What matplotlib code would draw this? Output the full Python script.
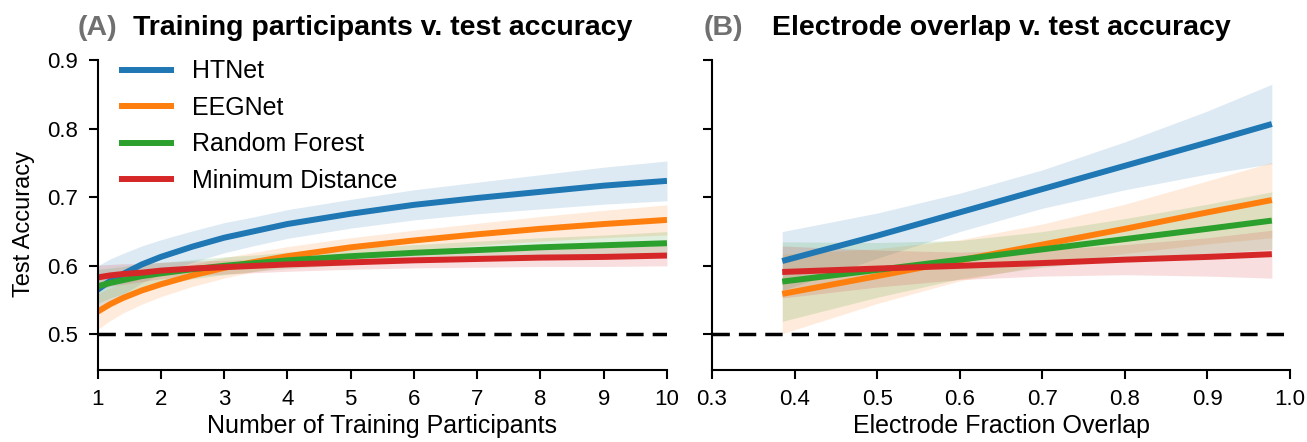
import matplotlib
matplotlib.use("Agg")
import matplotlib.pyplot as plt
import numpy as np

plt.rcParams['font.family'] = ['Liberation Sans', 'DejaVu Sans']

# ---------------- data ----------------
models = ["HTNet", "EEGNet", "Random Forest", "Minimum Distance"]
colors = ["#1f77b4", "#ff7f0e", "#2ca02c", "#d62728"]

# Panel A: number of training participants
n_train = [1, 1.2, 1.4, 1.7, 2, 2.5, 3, 3.5, 4, 5, 6, 7, 8, 9, 10]
acc_a_htnet = [0.565, 0.578, 0.588, 0.602, 0.613, 0.628, 0.641, 0.651, 0.661, 0.676, 0.689, 0.699, 0.708, 0.717, 0.724]
acc_a_eegnet = [0.533, 0.544, 0.553, 0.564, 0.573, 0.586, 0.597, 0.606, 0.614, 0.627, 0.637, 0.646, 0.654, 0.661, 0.667]
acc_a_rf = [0.570, 0.575, 0.579, 0.585, 0.589, 0.595, 0.600, 0.604, 0.608, 0.614, 0.619, 0.623, 0.627, 0.630, 0.633]
acc_a_md = [0.583, 0.586, 0.588, 0.590, 0.593, 0.596, 0.598, 0.600, 0.602, 0.605, 0.608, 0.610, 0.612, 0.613, 0.615]
ci_a_htnet = [0.035, 0.032, 0.030, 0.027, 0.025, 0.023, 0.022, 0.021, 0.021, 0.021, 0.022, 0.023, 0.025, 0.027, 0.029]
ci_a_eegnet = [0.026, 0.024, 0.022, 0.020, 0.018, 0.016, 0.015, 0.014, 0.014, 0.014, 0.015, 0.016, 0.018, 0.020, 0.022]
ci_a_rf = [0.025, 0.022, 0.020, 0.018, 0.016, 0.014, 0.013, 0.012, 0.012, 0.012, 0.012, 0.013, 0.014, 0.015, 0.017]
ci_a_md = [0.018, 0.016, 0.015, 0.013, 0.012, 0.011, 0.010, 0.010, 0.010, 0.010, 0.011, 0.012, 0.013, 0.014, 0.015]

# Panel B: electrode fraction overlap
overlap = [0.385, 0.5, 0.6, 0.7, 0.8, 0.9, 0.978]
acc_b_htnet = [0.607, 0.644, 0.678, 0.712, 0.746, 0.780, 0.807]
acc_b_eegnet = [0.559, 0.585, 0.608, 0.631, 0.654, 0.678, 0.696]
acc_b_rf = [0.577, 0.594, 0.609, 0.624, 0.639, 0.654, 0.666]
acc_b_md = [0.591, 0.596, 0.600, 0.604, 0.609, 0.613, 0.617]
ci_b_htnet = [0.043, 0.033, 0.028, 0.028, 0.035, 0.046, 0.058]
ci_b_eegnet = [0.058, 0.040, 0.030, 0.030, 0.036, 0.046, 0.055]
ci_b_rf = [0.058, 0.040, 0.028, 0.026, 0.030, 0.036, 0.042]
ci_b_md = [0.038, 0.027, 0.020, 0.019, 0.022, 0.028, 0.035]

chance = 0.5
yticks = [0.5, 0.6, 0.7, 0.8, 0.9]
xticks_a = [1, 2, 3, 4, 5, 6, 7, 8, 9, 10]
xticks_b = [0.3, 0.4, 0.5, 0.6, 0.7, 0.8, 0.9, 1.0]

# ---------------- figure ----------------
fig = plt.figure(figsize=(13.07, 4.42), dpi=100)
axA = fig.add_axes([0.0746, 0.163, 0.4357, 0.7006])
axB = fig.add_axes([0.5448, 0.163, 0.4422, 0.7006])

lw = 4.3
panelA = [(acc_a_htnet, ci_a_htnet), (acc_a_eegnet, ci_a_eegnet), (acc_a_rf, ci_a_rf), (acc_a_md, ci_a_md)]
panelB = [(acc_b_htnet, ci_b_htnet), (acc_b_eegnet, ci_b_eegnet), (acc_b_rf, ci_b_rf), (acc_b_md, ci_b_md)]

for (m, c), name, col in zip(panelA, models, colors):
    m = np.array(m); c = np.array(c)
    axA.fill_between(n_train, m - c, m + c, color=col, alpha=0.15, lw=0)
for (m, c), name, col in zip(panelA, models, colors):
    axA.plot(n_train, m, color=col, lw=lw, label=name, solid_capstyle='butt')

for (m, c), name, col in zip(panelB, models, colors):
    m = np.array(m); c = np.array(c)
    axB.fill_between(overlap, m - c, m + c, color=col, alpha=0.15, lw=0)
for (m, c), name, col in zip(panelB, models, colors):
    axB.plot(overlap, m, color=col, lw=lw, solid_capstyle='butt')

for ax in (axA, axB):
    ax.axhline(chance, color='black', lw=2.5, ls=(0, (5, 2.6)), zorder=1)
    ax.set_ylim(0.448, 0.9)
    ax.set_yticks(yticks)
    for s in ('top', 'right'):
        ax.spines[s].set_visible(False)
    for s in ('left', 'bottom'):
        ax.spines[s].set_linewidth(1.5)
    ax.tick_params(width=1.5, length=6.5, labelsize=16, direction='out', pad=7.5)

axA.set_xlim(1, 10)
axA.set_xticks(xticks_a)
axA.set_yticklabels([f"{v:.1f}" for v in yticks])
axA.set_xlabel("Number of Training Participants", fontsize=18, labelpad=2.5)
axA.set_ylabel("Test Accuracy", fontsize=17)
axA.yaxis.set_label_coords(-0.11, 0.47)

axB.set_xlim(0.3, 1.0)
axB.set_xticks(xticks_b)
axB.set_xticklabels([f"{v:.1f}" for v in xticks_b])
axB.set_yticklabels([])
axB.set_xlabel("Electrode Fraction Overlap", fontsize=18, labelpad=2.5)

axA.set_title("Training participants v. test accuracy", fontsize=20.5, fontweight='bold', pad=18)
axB.set_title("Electrode overlap v. test accuracy", fontsize=20.5, fontweight='bold', pad=18)
fig.text(0.0597, 0.921, "(A)", fontsize=20.5, fontweight='bold', color='#707070', va='baseline')
fig.text(0.538, 0.921, "(B)", fontsize=20.5, fontweight='bold', color='#707070', va='baseline')

axA.legend(loc='upper left', frameon=False, fontsize=18, handlelength=2.2,
           handletextpad=0.7, labelspacing=0.5, borderaxespad=0.0,
           bbox_to_anchor=(0.021, 1.035))

fig.savefig("out.png", dpi=100)
